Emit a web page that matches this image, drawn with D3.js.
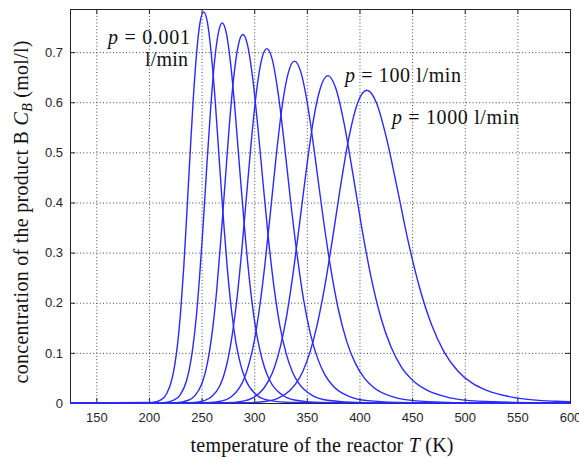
<!DOCTYPE html>
<html>
<head>
<meta charset="utf-8">
<script src="https://cdn.jsdelivr.net/npm/d3@7"></script>
<style>
  body { margin: 0; background: #fff; }
  svg { display: block; }
</style>
</head>
<body>
<svg id="chart" width="579" height="459"></svg>
<script>
// Concentration of B vs reactor temperature, one curve per flow rate p (l/min).
// Each curve is a list of [T (K), C_B (mol/l)].
const flowRates = ['0.001', '0.01', '0.1', '1', '10', '100', '1000'];

const curveP0001 = [[125, 0], [202.6, 0.0009], [211.8, 0.0068], [216.8, 0.0184], [221.9, 0.048], [224.6, 0.077],
  [227.4, 0.121], [230.2, 0.185], [233.1, 0.272], [236.0, 0.379], [239.1, 0.497], [242.2, 0.610], [245.4, 0.701],
  [248.6, 0.760], [252.0, 0.780], [255.5, 0.760], [259.0, 0.701], [262.7, 0.610], [266.4, 0.497], [270.3, 0.379],
  [274.3, 0.272], [278.4, 0.185], [282.6, 0.121], [287.0, 0.077], [291.5, 0.048], [300.9, 0.0184], [311.0, 0.0068],
  [333.3, 0.0009], [600, 0]];

const curveP001 = [[125, 0], [213.8, 0.0008], [224.1, 0.0061], [229.7, 0.0164], [235.5, 0.043], [238.5, 0.069],
  [241.6, 0.109], [244.8, 0.168], [248.0, 0.249], [251.4, 0.352], [254.8, 0.467], [258.4, 0.581], [262.0, 0.675],
  [265.8, 0.737], [269.6, 0.758], [273.6, 0.737], [277.7, 0.675], [281.9, 0.581], [286.2, 0.467], [290.7, 0.352],
  [295.3, 0.249], [300.0, 0.168], [305.0, 0.109], [310.1, 0.069], [315.3, 0.043], [326.4, 0.0164], [338.2, 0.0061],
  [364.8, 0.0008], [600, 0]];

const curveP01 = [[125, 0], [226.0, 0.0007], [237.5, 0.0055], [243.7, 0.0147], [250.3, 0.039], [253.7, 0.062],
  [257.2, 0.099], [260.8, 0.153], [264.5, 0.228], [268.3, 0.326], [272.3, 0.439], [276.3, 0.552], [280.5, 0.649],
  [284.8, 0.713], [289.2, 0.735], [293.8, 0.713], [298.5, 0.649], [303.4, 0.552], [308.4, 0.439], [313.6, 0.326],
  [319.0, 0.228], [324.5, 0.153], [330.3, 0.099], [336.3, 0.062], [342.4, 0.039], [355.5, 0.0147], [369.7, 0.0055],
  [401.6, 0.0007], [600, 0]];

const curveP1 = [[125, 0], [239.6, 0.0007], [252.7, 0.0048], [259.7, 0.0129], [267.2, 0.034], [271.1, 0.055],
  [275.1, 0.088], [279.2, 0.137], [283.5, 0.206], [287.9, 0.298], [292.4, 0.406], [297.1, 0.519], [301.9, 0.617],
  [306.9, 0.684], [312.0, 0.707], [317.3, 0.684], [322.8, 0.617], [328.5, 0.519], [334.4, 0.406], [340.6, 0.298],
  [346.9, 0.206], [353.5, 0.137], [360.4, 0.088], [367.5, 0.055], [374.9, 0.034], [390.6, 0.0129], [407.8, 0.0048],
  [447.0, 0.0007], [600, 0]];

const curveP10 = [[125, 0], [254.9, 0.0006], [269.6, 0.0043], [277.7, 0.0116], [286.2, 0.031], [290.7, 0.050],
  [295.3, 0.080], [300.1, 0.124], [305.0, 0.189], [310.1, 0.275], [315.4, 0.380], [320.8, 0.491], [326.4, 0.590],
  [332.3, 0.658], [338.3, 0.682], [344.6, 0.658], [351.1, 0.590], [357.8, 0.491], [364.8, 0.380], [372.2, 0.275],
  [379.7, 0.189], [387.7, 0.124], [395.9, 0.080], [404.5, 0.050], [413.5, 0.031], [432.8, 0.0116], [453.9, 0.0043],
  [503.0, 0.0006], [600, 0]];

const curveP100 = [[125, 0], [272.5, 0.0005], [289.4, 0.0038], [298.7, 0.0103], [308.6, 0.028], [313.8, 0.045],
  [319.2, 0.071], [324.8, 0.112], [330.6, 0.171], [336.5, 0.252], [342.7, 0.352], [349.2, 0.460], [355.8, 0.559],
  [362.8, 0.628], [370.0, 0.653], [377.5, 0.628], [385.3, 0.559], [393.5, 0.460], [402.0, 0.352], [410.9, 0.252],
  [420.2, 0.171], [429.9, 0.112], [440.0, 0.071], [450.7, 0.045], [461.9, 0.028], [486.0, 0.0103], [512.8, 0.0038],
  [576.4, 0.0005], [600, 0]];

const curveP1000 = [[125, 0], [292.0, 0.0005], [311.6, 0.0034], [322.4, 0.0092], [333.9, 0.025], [340.0, 0.040],
  [346.4, 0.064], [352.9, 0.101], [359.8, 0.156], [366.9, 0.231], [374.2, 0.325], [381.9, 0.431], [389.9, 0.529],
  [398.3, 0.599], [407.0, 0.624], [416.1, 0.599], [425.6, 0.529], [435.6, 0.431], [446.0, 0.325], [457.0, 0.231],
  [468.5, 0.156], [480.6, 0.101], [493.4, 0.064], [506.8, 0.040], [521.0, 0.025], [551.9, 0.0092], [586.8, 0.0034],
  [600, 0.0024]];

const curves = [curveP0001, curveP001, curveP01, curveP1, curveP10, curveP100, curveP1000];

const tempTicks = [150, 200, 250, 300, 350, 400, 450, 500, 550, 600];
const concTicks = [0, 0.1, 0.2, 0.3, 0.4, 0.5, 0.6, 0.7];

const svg = d3.select('#chart');
const W = 579, H = 459;
const plot = { left: 70, right: 570, top: 9, bottom: 403 };

svg.append('rect').attr('width', W).attr('height', H).attr('fill', '#fff');

const x = d3.scaleLinear().domain([125, 600]).range([plot.left, plot.right]);
const y = d3.scaleLinear().domain([0, 0.786]).range([plot.bottom, plot.top]);

const plotW = plot.right - plot.left;
const plotH = plot.bottom - plot.top;

// dotted grid
const gridX = svg.append('g')
  .attr('transform', `translate(0,${plot.bottom})`)
  .call(d3.axisBottom(x).tickValues(tempTicks.filter((t) => t < 600)).tickSize(-plotH).tickFormat(''));
const gridY = svg.append('g')
  .attr('transform', `translate(${plot.left},0)`)
  .call(d3.axisLeft(y).tickValues(concTicks.filter((c) => c > 0)).tickSize(-plotW).tickFormat(''));
[gridX, gridY].forEach((g) => {
  g.select('.domain').remove();
  g.selectAll('line')
    .attr('stroke', '#444')
    .attr('stroke-dasharray', '1,2.3');
});

// box
svg.append('rect')
  .attr('x', plot.left + 0.5)
  .attr('y', plot.top + 0.5)
  .attr('width', plotW)
  .attr('height', plotH)
  .attr('fill', 'none')
  .attr('stroke', '#222')
  .attr('stroke-width', 1);

// inward ticks on all four sides
const tickFont = (g) => {
  g.select('.domain').remove();
  g.selectAll('line').attr('stroke', '#222');
  g.selectAll('text')
    .attr('fill', '#262626')
    .style('font-family', '"Liberation Sans", Arial, sans-serif')
    .style('font-size', '13px');
};

svg.append('g')
  .attr('transform', `translate(0,${plot.bottom})`)
  .call(d3.axisBottom(x).tickValues(tempTicks).tickSizeInner(-5).tickSizeOuter(0).tickPadding(10))
  .call(tickFont);
svg.append('g')
  .attr('transform', `translate(0,${plot.top})`)
  .call(d3.axisTop(x).tickValues(tempTicks).tickSizeInner(-5).tickSizeOuter(0).tickFormat(''))
  .call(tickFont);
svg.append('g')
  .attr('transform', `translate(${plot.left},0)`)
  .call(d3.axisLeft(y).tickValues(concTicks).tickSizeInner(-5).tickSizeOuter(0).tickPadding(7)
    .tickFormat((d) => (d === 0 ? '0' : d3.format('.1f')(d))))
  .call(tickFont);
svg.append('g')
  .attr('transform', `translate(${plot.right},0)`)
  .call(d3.axisRight(y).tickValues(concTicks).tickSizeInner(-5).tickSizeOuter(0).tickFormat(''))
  .call(tickFont);

// curves
const line = d3.line()
  .x((d) => x(d[0]))
  .y((d) => y(d[1]))
  .curve(d3.curveMonotoneX);

svg.append('g')
  .selectAll('path')
  .data(curves)
  .join('path')
  .attr('d', line)
  .attr('fill', 'none')
  .attr('stroke', '#2a2aff')
  .attr('stroke-width', 1.4);

// labels (the source figure is a little wider-set than Times, so fit lengths)
const serif = '"Liberation Serif", "Times New Roman", serif';

svg.append('text')
  .attr('x', 322)
  .attr('y', 451.5)
  .attr('text-anchor', 'middle')
  .attr('textLength', 263)
  .attr('lengthAdjust', 'spacing')
  .style('font-family', serif)
  .style('font-size', '20px')
  .attr('fill', '#111')
  .call((t) => {
    t.append('tspan').text('temperature of the reactor ');
    t.append('tspan').attr('font-style', 'italic').text('T');
    t.append('tspan').text(' (K)');
  });

svg.append('text')
  .attr('transform', 'translate(28,212) rotate(-90)')
  .attr('text-anchor', 'middle')
  .attr('textLength', 343)
  .attr('lengthAdjust', 'spacing')
  .style('font-family', serif)
  .style('font-size', '20px')
  .attr('fill', '#111')
  .call((t) => {
    t.append('tspan').text('concentration of the product B ');
    t.append('tspan').attr('font-style', 'italic').text('C');
    t.append('tspan').attr('font-style', 'italic').attr('font-size', '14px').attr('dy', 4).text('B');
    t.append('tspan').attr('dy', -4).text(' (mol/l)');
  });

// flow-rate annotations
const note = (px, py, value, unit, len) => {
  const t = svg.append('text')
    .attr('x', px)
    .attr('y', py)
    .attr('textLength', len)
    .attr('lengthAdjust', 'spacing')
    .style('font-family', serif)
    .style('font-size', '20px')
    .attr('fill', '#111');
  t.append('tspan').attr('font-style', 'italic').text('p');
  t.append('tspan').text(` = ${value}${unit}`);
};

note(108, 44, flowRates[0], '', 82);
svg.append('text')
  .attr('x', 145)
  .attr('y', 66)
  .attr('textLength', 43)
  .attr('lengthAdjust', 'spacing')
  .style('font-family', serif)
  .style('font-size', '20px')
  .attr('fill', '#111')
  .text('l/min');
note(345, 82, flowRates[5], ' l/min', 116);
note(392, 124, flowRates[6], ' l/min', 127);
</script>
</body>
</html>
